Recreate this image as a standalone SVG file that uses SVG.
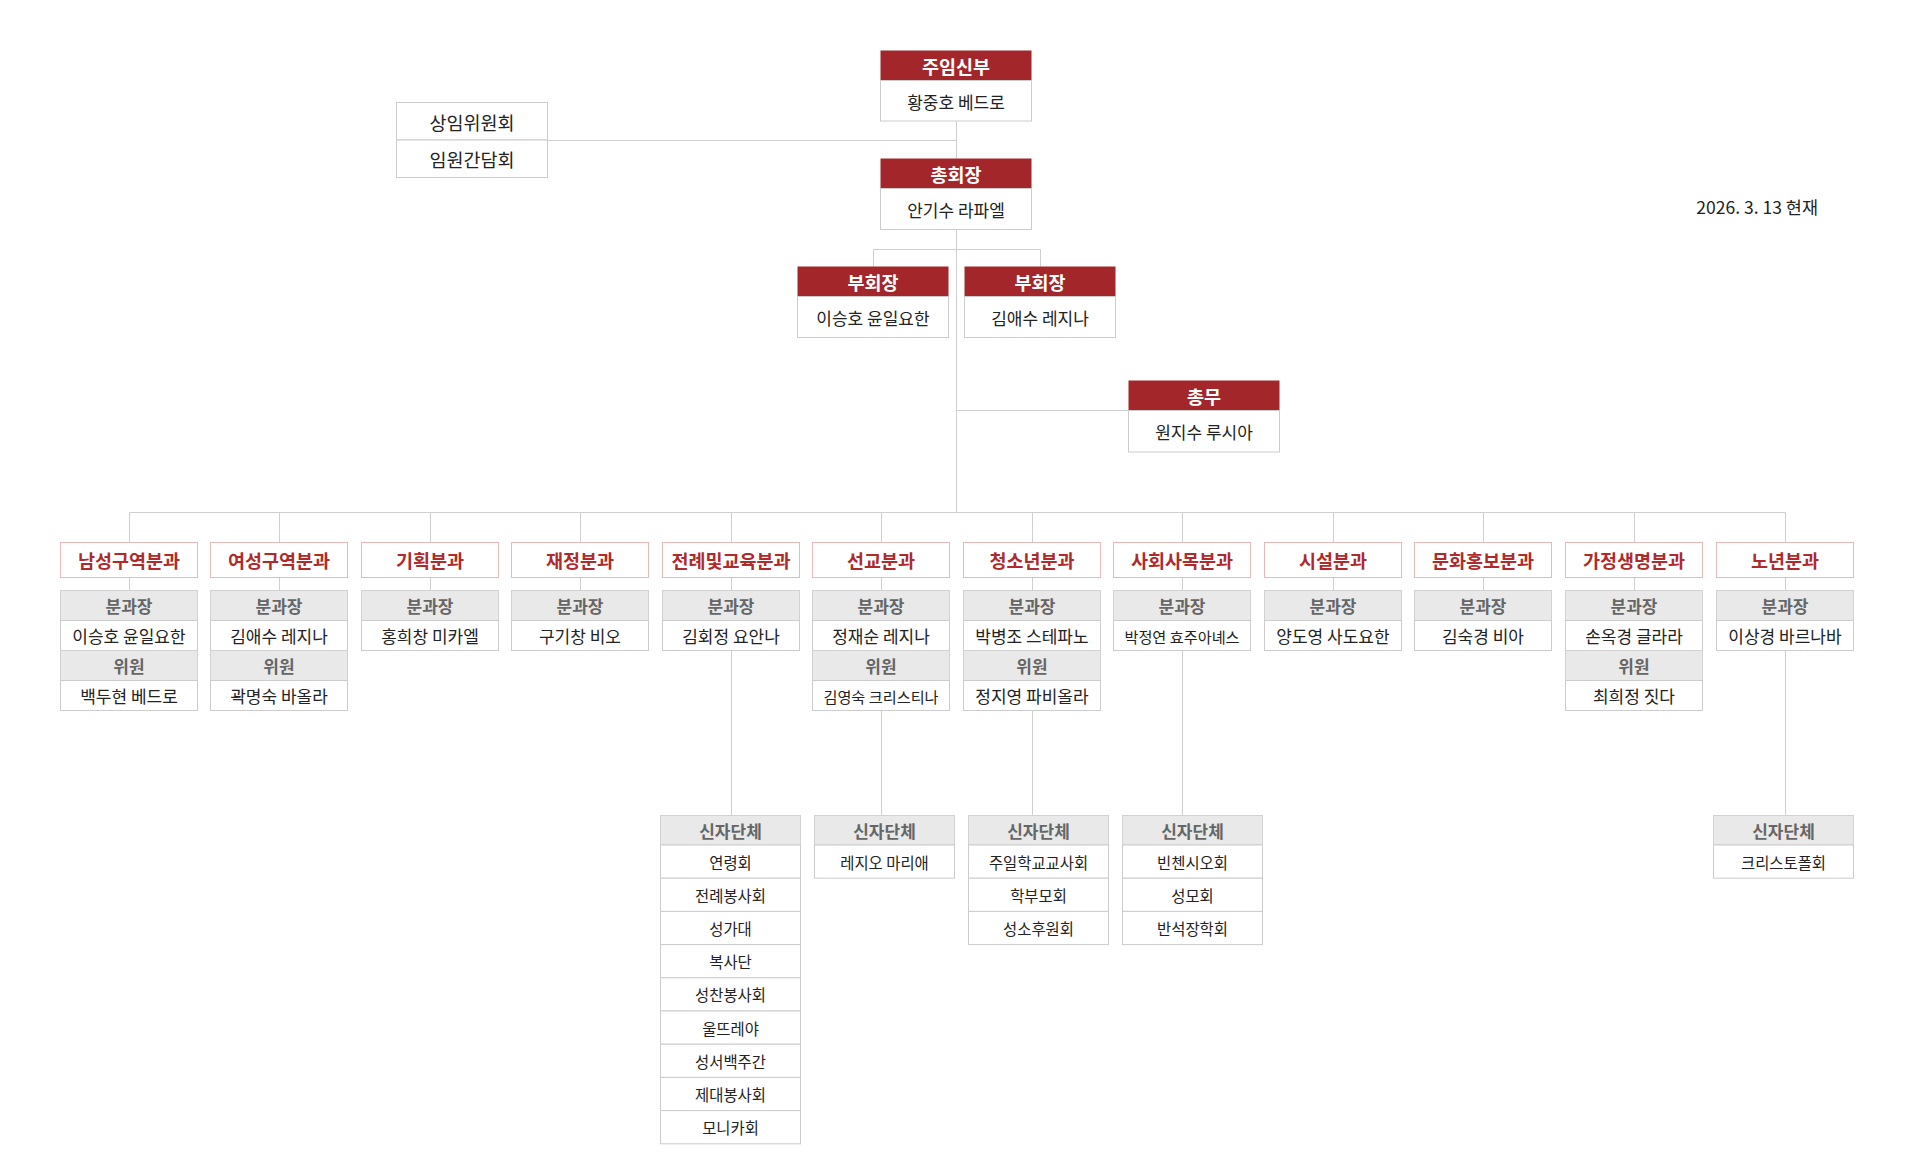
<svg xmlns="http://www.w3.org/2000/svg" width="1920" height="1168" viewBox="0 0 1920 1168">
<style>
text{font-family:"Noto Sans CJK KR","Noto Sans",sans-serif;text-anchor:middle;dominant-baseline:central}
.red{fill:#a3272a}
.wbox{fill:#fff;stroke:#cccccc;stroke-width:1}
.hbox{fill:#fff;stroke:#e9b8b8;stroke-width:1}
.gbox{fill:#e9e9e9;stroke:#d2d2d2;stroke-width:1}
.ht{fill:#fff;font-weight:700;font-size:18.5px}
.nt{fill:#222;font-size:17px}
.st{fill:#222;font-size:15.2px}
.dt{fill:#b02a2b;font-weight:700;font-size:18.5px}
.gt{fill:#666;font-weight:700;font-size:17px}
.rt{fill:#222;font-size:15.4px}
.ln{stroke:#cfcfcf;stroke-width:1;fill:none}
</style>
<rect width="1920" height="1168" fill="#fff"/>
<g id="connectors" class="ln">
<path d="M956.5 121V158.5M956.5 229.5V512.5M547.5 140.5H956.5M873.5 249.5H1040.5M873.5 249.5V266.5M1040.5 249.5V266.5M956.5 410.5H1128.5"/>
<path d="M129.5 512.5H1785.5"/>
<path d="M129.5 512.5V542.5M279.5 512.5V542.5M430.5 512.5V542.5M580.5 512.5V542.5M731.5 512.5V542.5M881.5 512.5V542.5M1032.5 512.5V542.5M1182.5 512.5V542.5M1333.5 512.5V542.5M1483.5 512.5V542.5M1634.5 512.5V542.5M1785.5 512.5V542.5"/>
<path d="M129.5 577.5V590.5M279.5 577.5V590.5M430.5 577.5V590.5M580.5 577.5V590.5M731.5 577.5V590.5M881.5 577.5V590.5M1032.5 577.5V590.5M1182.5 577.5V590.5M1333.5 577.5V590.5M1483.5 577.5V590.5M1634.5 577.5V590.5M1785.5 577.5V590.5"/>
<path d="M731.5 650.5V815.5M881.5 710.5V815.5M1032.5 710.5V815.5M1182.5 650.5V815.5M1785.5 650.5V815.5"/>
</g>
<g id="pastor">
<rect class="red" x="880.5" y="50.5" width="151" height="30"/><text class="ht" x="956" y="66">주임신부</text>
<rect class="wbox" x="880.5" y="80.5" width="151" height="40.5"/><text class="nt" x="956" y="101">황중호 베드로</text>
</g>
<g id="committee">
<rect class="wbox" x="396.5" y="102.5" width="151" height="37.5"/><text class="nt" x="472" y="121.5" style="font-size:18.5px">상임위원회</text>
<rect class="wbox" x="396.5" y="140" width="151" height="37.5"/><text class="nt" x="472" y="159" style="font-size:18.5px">임원간담회</text>
</g>
<g id="president">
<rect class="red" x="880.5" y="158.5" width="151" height="30"/><text class="ht" x="956" y="174">총회장</text>
<rect class="wbox" x="880.5" y="188.5" width="151" height="41"/><text class="nt" x="956" y="209.5">안기수 라파엘</text>
</g>
<g id="vp1">
<rect class="red" x="797.5" y="266.5" width="151" height="30"/><text class="ht" x="873" y="282">부회장</text>
<rect class="wbox" x="797.5" y="296.5" width="151" height="41"/><text class="nt" x="873" y="317.5">이승호 윤일요한</text>
</g>
<g id="vp2">
<rect class="red" x="964.5" y="266.5" width="151" height="30"/><text class="ht" x="1040" y="282">부회장</text>
<rect class="wbox" x="964.5" y="296.5" width="151" height="41"/><text class="nt" x="1040" y="317.5">김애수 레지나</text>
</g>
<g id="secretary">
<rect class="red" x="1128.5" y="380.5" width="151" height="30"/><text class="ht" x="1204" y="396">총무</text>
<rect class="wbox" x="1128.5" y="410.5" width="151" height="41.5"/><text class="nt" x="1204" y="431.5">원지수 루시아</text>
</g>
<text id="date" x="1818" y="206" style="text-anchor:end;font-size:17.5px;fill:#222">2026. 3. 13 현재</text>

<g id="d0">
<rect class="hbox" x="60.5" y="542.5" width="137" height="35"/><text class="dt" x="129" y="560">남성구역분과</text>
<rect class="gbox" x="60.5" y="590.5" width="137" height="30"/><text class="gt" x="129" y="605.5">분과장</text>
<rect class="wbox" x="60.5" y="620.5" width="137" height="30"/><text class="nt" x="129" y="635.5">이승호 윤일요한</text>
<rect class="gbox" x="60.5" y="650.5" width="137" height="30"/><text class="gt" x="129" y="665.5">위원</text>
<rect class="wbox" x="60.5" y="680.5" width="137" height="30"/><text class="nt" x="129" y="695.5">백두현 베드로</text>
</g>
<g id="d1">
<rect class="hbox" x="210.5" y="542.5" width="137" height="35"/><text class="dt" x="279" y="560">여성구역분과</text>
<rect class="gbox" x="210.5" y="590.5" width="137" height="30"/><text class="gt" x="279" y="605.5">분과장</text>
<rect class="wbox" x="210.5" y="620.5" width="137" height="30"/><text class="nt" x="279" y="635.5">김애수 레지나</text>
<rect class="gbox" x="210.5" y="650.5" width="137" height="30"/><text class="gt" x="279" y="665.5">위원</text>
<rect class="wbox" x="210.5" y="680.5" width="137" height="30"/><text class="nt" x="279" y="695.5">곽명숙 바올라</text>
</g>
<g id="d2">
<rect class="hbox" x="361.5" y="542.5" width="137" height="35"/><text class="dt" x="430" y="560">기획분과</text>
<rect class="gbox" x="361.5" y="590.5" width="137" height="30"/><text class="gt" x="430" y="605.5">분과장</text>
<rect class="wbox" x="361.5" y="620.5" width="137" height="30"/><text class="nt" x="430" y="635.5">홍희창 미카엘</text>
</g>
<g id="d3">
<rect class="hbox" x="511.5" y="542.5" width="137" height="35"/><text class="dt" x="580" y="560">재정분과</text>
<rect class="gbox" x="511.5" y="590.5" width="137" height="30"/><text class="gt" x="580" y="605.5">분과장</text>
<rect class="wbox" x="511.5" y="620.5" width="137" height="30"/><text class="nt" x="580" y="635.5">구기창 비오</text>
</g>
<g id="d4">
<rect class="hbox" x="662.5" y="542.5" width="137" height="35"/><text class="dt" x="731" y="560">전례및교육분과</text>
<rect class="gbox" x="662.5" y="590.5" width="137" height="30"/><text class="gt" x="731" y="605.5">분과장</text>
<rect class="wbox" x="662.5" y="620.5" width="137" height="30"/><text class="nt" x="731" y="635.5">김회정 요안나</text>
</g>
<g id="d5">
<rect class="hbox" x="812.5" y="542.5" width="137" height="35"/><text class="dt" x="881" y="560">선교분과</text>
<rect class="gbox" x="812.5" y="590.5" width="137" height="30"/><text class="gt" x="881" y="605.5">분과장</text>
<rect class="wbox" x="812.5" y="620.5" width="137" height="30"/><text class="nt" x="881" y="635.5">정재순 레지나</text>
<rect class="gbox" x="812.5" y="650.5" width="137" height="30"/><text class="gt" x="881" y="665.5">위원</text>
<rect class="wbox" x="812.5" y="680.5" width="137" height="30"/><text class="st" x="881" y="695.5">김영숙 크리스티나</text>
</g>
<g id="d6">
<rect class="hbox" x="963.5" y="542.5" width="137" height="35"/><text class="dt" x="1032" y="560">청소년분과</text>
<rect class="gbox" x="963.5" y="590.5" width="137" height="30"/><text class="gt" x="1032" y="605.5">분과장</text>
<rect class="wbox" x="963.5" y="620.5" width="137" height="30"/><text class="nt" x="1032" y="635.5">박병조 스테파노</text>
<rect class="gbox" x="963.5" y="650.5" width="137" height="30"/><text class="gt" x="1032" y="665.5">위원</text>
<rect class="wbox" x="963.5" y="680.5" width="137" height="30"/><text class="nt" x="1032" y="695.5">정지영 파비올라</text>
</g>
<g id="d7">
<rect class="hbox" x="1113.5" y="542.5" width="137" height="35"/><text class="dt" x="1182" y="560">사회사목분과</text>
<rect class="gbox" x="1113.5" y="590.5" width="137" height="30"/><text class="gt" x="1182" y="605.5">분과장</text>
<rect class="wbox" x="1113.5" y="620.5" width="137" height="30"/><text class="st" x="1182" y="635.5">박정연 효주아녜스</text>
</g>
<g id="d8">
<rect class="hbox" x="1264.5" y="542.5" width="137" height="35"/><text class="dt" x="1333" y="560">시설분과</text>
<rect class="gbox" x="1264.5" y="590.5" width="137" height="30"/><text class="gt" x="1333" y="605.5">분과장</text>
<rect class="wbox" x="1264.5" y="620.5" width="137" height="30"/><text class="nt" x="1333" y="635.5">양도영 사도요한</text>
</g>
<g id="d9">
<rect class="hbox" x="1414.5" y="542.5" width="137" height="35"/><text class="dt" x="1483" y="560">문화홍보분과</text>
<rect class="gbox" x="1414.5" y="590.5" width="137" height="30"/><text class="gt" x="1483" y="605.5">분과장</text>
<rect class="wbox" x="1414.5" y="620.5" width="137" height="30"/><text class="nt" x="1483" y="635.5">김숙경 비아</text>
</g>
<g id="d10">
<rect class="hbox" x="1565.5" y="542.5" width="137" height="35"/><text class="dt" x="1634" y="560">가정생명분과</text>
<rect class="gbox" x="1565.5" y="590.5" width="137" height="30"/><text class="gt" x="1634" y="605.5">분과장</text>
<rect class="wbox" x="1565.5" y="620.5" width="137" height="30"/><text class="nt" x="1634" y="635.5">손옥경 글라라</text>
<rect class="gbox" x="1565.5" y="650.5" width="137" height="30"/><text class="gt" x="1634" y="665.5">위원</text>
<rect class="wbox" x="1565.5" y="680.5" width="137" height="30"/><text class="nt" x="1634" y="695.5">최희정 짓다</text>
</g>
<g id="d11">
<rect class="hbox" x="1716.5" y="542.5" width="137" height="35"/><text class="dt" x="1785" y="560">노년분과</text>
<rect class="gbox" x="1716.5" y="590.5" width="137" height="30"/><text class="gt" x="1785" y="605.5">분과장</text>
<rect class="wbox" x="1716.5" y="620.5" width="137" height="30"/><text class="nt" x="1785" y="635.5">이상경 바르나바</text>
</g>

<g id="g4">
<rect class="gbox" x="660.5" y="815.5" width="140" height="29.5"/><text class="gt" x="730.5" y="830.5">신자단체</text>
<rect class="wbox" x="660.5" y="845" width="140" height="33.2"/><text class="rt" x="730.5" y="861.6">연령회</text>
<rect class="wbox" x="660.5" y="878.2" width="140" height="33.2"/><text class="rt" x="730.5" y="894.8">전례봉사회</text>
<rect class="wbox" x="660.5" y="911.4" width="140" height="33.2"/><text class="rt" x="730.5" y="928">성가대</text>
<rect class="wbox" x="660.5" y="944.6" width="140" height="33.2"/><text class="rt" x="730.5" y="961.2">복사단</text>
<rect class="wbox" x="660.5" y="977.8" width="140" height="33.2"/><text class="rt" x="730.5" y="994.4">성찬봉사회</text>
<rect class="wbox" x="660.5" y="1011" width="140" height="33.2"/><text class="rt" x="730.5" y="1027.6">울뜨레야</text>
<rect class="wbox" x="660.5" y="1044.2" width="140" height="33.2"/><text class="rt" x="730.5" y="1060.8">성서백주간</text>
<rect class="wbox" x="660.5" y="1077.4" width="140" height="33.2"/><text class="rt" x="730.5" y="1094">제대봉사회</text>
<rect class="wbox" x="660.5" y="1110.6" width="140" height="33.2"/><text class="rt" x="730.5" y="1127.2">모니카회</text>
</g>
<g id="g5">
<rect class="gbox" x="814.5" y="815.5" width="140" height="29.5"/><text class="gt" x="884.5" y="830.5">신자단체</text>
<rect class="wbox" x="814.5" y="845" width="140" height="33.2"/><text class="rt" x="884.5" y="861.6">레지오 마리애</text>
</g>
<g id="g6">
<rect class="gbox" x="968.5" y="815.5" width="140" height="29.5"/><text class="gt" x="1038.5" y="830.5">신자단체</text>
<rect class="wbox" x="968.5" y="845" width="140" height="33.2"/><text class="rt" x="1038.5" y="861.6">주일학교교사회</text>
<rect class="wbox" x="968.5" y="878.2" width="140" height="33.2"/><text class="rt" x="1038.5" y="894.8">학부모회</text>
<rect class="wbox" x="968.5" y="911.4" width="140" height="33.2"/><text class="rt" x="1038.5" y="928">성소후원회</text>
</g>
<g id="g7">
<rect class="gbox" x="1122.5" y="815.5" width="140" height="29.5"/><text class="gt" x="1192.5" y="830.5">신자단체</text>
<rect class="wbox" x="1122.5" y="845" width="140" height="33.2"/><text class="rt" x="1192.5" y="861.6">빈첸시오회</text>
<rect class="wbox" x="1122.5" y="878.2" width="140" height="33.2"/><text class="rt" x="1192.5" y="894.8">성모회</text>
<rect class="wbox" x="1122.5" y="911.4" width="140" height="33.2"/><text class="rt" x="1192.5" y="928">반석장학회</text>
</g>
<g id="g11">
<rect class="gbox" x="1713.5" y="815.5" width="140" height="29.5"/><text class="gt" x="1783.5" y="830.5">신자단체</text>
<rect class="wbox" x="1713.5" y="845" width="140" height="33.2"/><text class="rt" x="1783.5" y="861.6">크리스토폴회</text>
</g>
</svg>
